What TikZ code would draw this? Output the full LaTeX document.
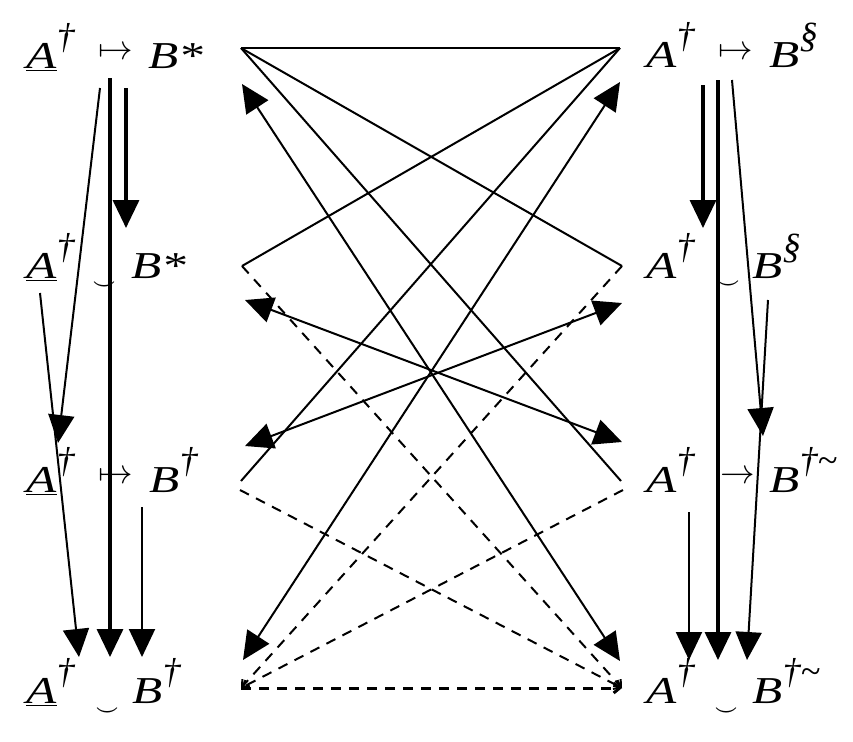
\documentclass[tikz,border=0pt]{standalone}
\usepackage{fontspec}
\setmainfont{Liberation Serif}
\usetikzlibrary{arrows.meta}

\newcommand{\wide}[1]{\scalebox{1.3}[1]{\textit{#1}}}
\newcommand{\up}[1]{\raisebox{0.52em}{\scalebox{0.95}{\textit{#1}}}}

\begin{document}
\begin{tikzpicture}[x=0.5pt,y=-0.5pt]
        \tikzstyle{every node}=[inner sep=0pt, font=\fontsize{19}{23}\selectfont]
        \tikzstyle{lbl}=[anchor=base west]
        \tikzstyle{smile}=[font=\fontsize{10}{11}\selectfont\boldmath]
        \tikzstyle{headed}=[-{Triangle[length=14pt,width=13pt]}]
        \tikzstyle{twohead}=[{Triangle[length=14pt,width=13pt]}-{Triangle[length=14pt,width=13pt]}]
        \tikzstyle{heavy}=[line width=1.7pt]
        \tikzstyle{wire}=[line width=1pt]
        \tikzstyle{dashy}=[wire, dash pattern=on 5pt off 4pt, -{Straight Barb[length=3pt,width=5pt]}]
        \useasboundingbox (0,0) rectangle (853,741);

        % left column
        \node[lbl] (la1) at (26,68) {\wide{\underline{A}}\kern0pt\up{†}};
        \node (lm1) at (116,53) {$\mapsto$};
        \node[lbl] (lb1) at (148,68) {\wide{B*}};
        \node[lbl] (la2) at (26,278) {\wide{\underline{A}}\kern0pt\up{†}};
        \node[smile] (ls2) at (104,286) {$\smile$};
        \node[lbl] (lb2) at (131,278) {\wide{B*}};
        \node[lbl] (la3) at (26,492) {\wide{\underline{A}}\kern0pt\up{†}};
        \node (lm3) at (116,477) {$\mapsto$};
        \node[lbl] (lb3) at (149,492) {\wide{B}\up{†}};
        \node[lbl] (la4) at (26,703) {\wide{\underline{A}}\kern0pt\up{†}};
        \node[smile] (ls4) at (107,712) {$\smile$};
        \node[lbl] (lb4) at (132,703) {\wide{B}\up{†}};

        % right column
        \node[lbl] (ra1) at (646,67) {\wide{A}\kern0pt\up{†}};
        \node (rm1) at (736,53) {$\mapsto$};
        \node[lbl] (rb1) at (769,67) {\wide{B}\up{§}};
        \node[lbl] (ra2) at (646,278) {\wide{A}\kern0pt\up{†}};
        \node[smile] (rs2) at (728,285) {$\smile$};
        \node[lbl] (rb2) at (752,278) {\wide{B}\up{§}};
        \node[lbl] (ra3) at (646,492) {\wide{A}\kern0pt\up{†}};
        \node (rm3) at (738,477) {$\rightarrow$};
        \node[lbl] (rb3) at (769,492) {\wide{B}\up{†\textasciitilde}};
        \node[lbl] (ra4) at (646,703) {\wide{A}\kern0pt\up{†}};
        \node[smile] (rs4) at (726,712) {$\smile$};
        \node[lbl] (rb4) at (752,703) {\wide{B}\up{†\textasciitilde}};

        % ends of the vertical arrows
        \coordinate (lt0) at (110,78);   \coordinate (lt1) at (110,657);
        \coordinate (lb10) at (126,88);  \coordinate (lb11) at (126,228);
        \coordinate (la10) at (100,88);  \coordinate (la11) at (58,443);
        \coordinate (la20) at (40,293);  \coordinate (la21) at (79,657);
        \coordinate (lb30) at (142,507); \coordinate (lb31) at (142,657);
        \coordinate (rt0) at (718,80);   \coordinate (rt1) at (718,660);
        \coordinate (ra10) at (703,85);  \coordinate (ra11) at (703,228);
        \coordinate (rb10) at (732,80);  \coordinate (rb11) at (763,436);
        \coordinate (rb20) at (768,300); \coordinate (rb21) at (747,660);
        \coordinate (ra30) at (689,512); \coordinate (ra31) at (689,660);

        \draw[heavy,headed] (lt0) -- (lt1);
        \draw[heavy,headed] (lb10) -- (lb11);
        \draw[wire,headed] (la10) -- (la11);
        \draw[wire,headed] (la20) -- (la21);
        \draw[wire,headed] (lb30) -- (lb31);
        \draw[heavy,headed] (rt0) -- (rt1);
        \draw[heavy,headed] (ra10) -- (ra11);
        \draw[wire,headed] (rb10) -- (rb11);
        \draw[wire,headed] (rb20) -- (rb21);
        \draw[wire,headed] (ra30) -- (ra31);

        % corners of the middle
        \coordinate (L1) at (241,48);  \coordinate (R1) at (620,48);
        \coordinate (L2) at (242,266); \coordinate (R2) at (622,266);
        \coordinate (L3) at (241,481); \coordinate (R3) at (621,481);
        \coordinate (L3d) at (240,490); \coordinate (R3d) at (623,490);
        \coordinate (L4) at (241,688); \coordinate (R4) at (622,688);
        % ends of the double arrows
        \coordinate (L1a) at (242,84);  \coordinate (R4a) at (620,661);
        \coordinate (R1a) at (620,82);  \coordinate (L4a) at (243,660);
        \coordinate (L2a) at (245,300); \coordinate (R3a) at (622,442);
        \coordinate (R2a) at (622,303); \coordinate (L3a) at (245,446);

        \draw[wire] (L1) -- (R1);
        \draw[wire] (L1) -- (R2);
        \draw[wire] (L1) -- (R3);
        \draw[wire] (R1) -- (L2);
        \draw[wire] (R1) -- (L3);
        \draw[wire,twohead] (L1a) -- (R4a);
        \draw[wire,twohead] (R1a) -- (L4a);
        \draw[wire,twohead] (L2a) -- (R3a);
        \draw[wire,twohead] (R2a) -- (L3a);
        \draw[dashy] (L2) -- (R4);
        \draw[dashy] (L3d) -- (R4);
        \draw[dashy] (R2) -- (L4);
        \draw[dashy] (R3d) -- (L4);
        \draw[dashy,line width=1.5pt] (L4) -- (R4);
\end{tikzpicture}
\end{document}
